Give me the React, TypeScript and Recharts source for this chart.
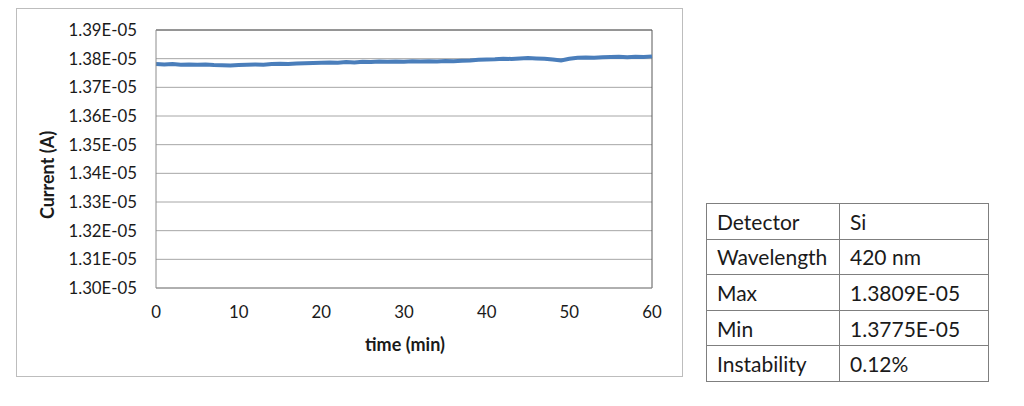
import { LineChart, Line, XAxis, YAxis, CartesianGrid, ReferenceLine, Label } from 'recharts'

// time in minutes, current in amps
const TIME = [
  0, 1, 2, 3, 4, 5, 6, 7, 8, 9, 10, 11, 12, 13, 14, 15, 16, 17, 18, 19, 20,
  21, 22, 23, 24, 25, 26, 27, 28, 29, 30, 31, 32, 33, 34, 35, 36, 37, 38, 39, 40,
  41, 42, 43, 44, 45, 46, 47, 48, 49, 50, 51, 52, 53, 54, 55, 56, 57, 58, 59, 60,
]
const CURRENT = [
  1.3781e-5, 1.3780e-5, 1.3781e-5, 1.3779e-5, 1.3780e-5, 1.3779e-5, 1.3780e-5, 1.3778e-5, 1.3777e-5, 1.3776e-5, 1.3778e-5,
  1.3779e-5, 1.3780e-5, 1.3779e-5, 1.3781e-5, 1.3782e-5, 1.3781e-5, 1.3783e-5, 1.3784e-5, 1.3785e-5, 1.3786e-5,
  1.3787e-5, 1.3786e-5, 1.3788e-5, 1.3787e-5, 1.3789e-5, 1.3788e-5, 1.3790e-5, 1.3789e-5, 1.3790e-5, 1.3789e-5,
  1.3791e-5, 1.3790e-5, 1.3791e-5, 1.3790e-5, 1.3792e-5, 1.3791e-5, 1.3793e-5, 1.3794e-5, 1.3796e-5, 1.3797e-5,
  1.3798e-5, 1.3800e-5, 1.3799e-5, 1.3801e-5, 1.3802e-5, 1.3801e-5, 1.3800e-5, 1.3797e-5, 1.3794e-5, 1.3800e-5,
  1.3803e-5, 1.3804e-5, 1.3803e-5, 1.3805e-5, 1.3806e-5, 1.3807e-5, 1.3805e-5, 1.3807e-5, 1.3806e-5, 1.3808e-5,
]
const X_TICKS = [0, 10, 20, 30, 40, 50, 60]
const Y_TICKS = [1.30e-5, 1.31e-5, 1.32e-5, 1.33e-5, 1.34e-5, 1.35e-5, 1.36e-5, 1.37e-5, 1.38e-5, 1.39e-5]

const TABLE_LABELS = ['Detector', 'Wavelength', 'Max', 'Min', 'Instability']
const TABLE_VALUES = ['Si', '420 nm', '1.3809E-05', '1.3775E-05', '0.12%']

const data = TIME.map((t, i) => ({ t, current: CURRENT[i] }))

const FONT = 'Lato, "Open Sans", sans-serif'
const TICK = { fontSize: 16.8, fontFamily: FONT, fill: '#1a1a1a' }
const TITLE = { fontSize: 18, fontWeight: 700, fontFamily: FONT, fill: '#1a1a1a' }
const fmtY = (v: number) => `${(v * 1e5).toFixed(2)}E-05`

export default function App() {
  return (
    <div style={{ position: 'absolute', left: 0, top: 0, width: 1024, height: 406, background: '#fff', fontFamily: FONT }}>
      <div style={{ position: 'absolute', left: 16, top: 8, width: 667, height: 369, boxSizing: 'border-box', border: '1px solid #bdbdbd' }}>
        <LineChart width={665} height={367} data={data} margin={{ top: 21, right: 30, left: 0, bottom: 0 }}>
          <CartesianGrid vertical={false} stroke="#a6a6a6" strokeWidth={1} />
          <XAxis
            dataKey="t" type="number" domain={[0, 60]} ticks={X_TICKS}
            tick={TICK} tickSize={0} tickMargin={18}
            axisLine={{ stroke: '#8c8c8c' }} height={88}
          >
            <Label
              content={({ viewBox }: any) => (
                <text x={viewBox.x + viewBox.width / 2 + 1} y={viewBox.y + 63} textAnchor="middle" style={TITLE}>
                  time (min)
                </text>
              )}
            />
          </XAxis>
          <YAxis
            type="number" domain={[1.30e-5, 1.39e-5]} ticks={Y_TICKS} tickFormatter={fmtY}
            tick={TICK} tickSize={0} tickMargin={19}
            axisLine={{ stroke: '#8c8c8c' }} width={139}
          >
            <Label
              content={({ viewBox }: any) => {
                const x = viewBox.x + 30
                const y = viewBox.y + viewBox.height / 2 + 16
                return (
                  <text x={x} y={y} transform={`rotate(-90, ${x}, ${y})`} textAnchor="middle" dominantBaseline="central" style={TITLE}>
                    Current (A)
                  </text>
                )
              }}
            />
          </YAxis>
          <ReferenceLine y={1.39e-5} stroke="#595959" strokeWidth={1} />
          <ReferenceLine x={60} stroke="#595959" strokeWidth={1} />
          <Line
            type="linear" dataKey="current" stroke="#4a7ebb" strokeWidth={4}
            dot={false} isAnimationActive={false}
          />
        </LineChart>
      </div>

      <table style={{
        position: 'absolute', left: 706, top: 203, width: 283, height: 179,
        borderCollapse: 'collapse', fontFamily: FONT, fontSize: 21, color: '#1a1a1a',
      }}>
        <tbody>
          {TABLE_LABELS.map((k, i) => (
            <tr key={k}>
              <td style={{ border: '1px solid #7f7f7f', width: 133, padding: '0 10px', boxSizing: 'border-box' }}>{k}</td>
              <td style={{ border: '1px solid #7f7f7f', padding: '0 10px' }}>{TABLE_VALUES[i]}</td>
            </tr>
          ))}
        </tbody>
      </table>
    </div>
  )
}
